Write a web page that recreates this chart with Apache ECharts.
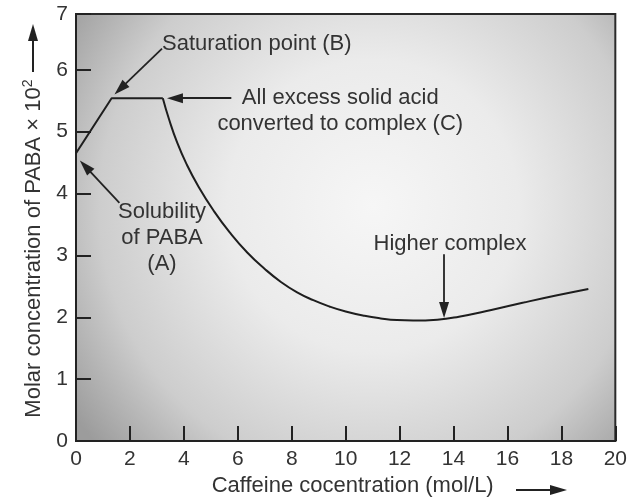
<!DOCTYPE html>
<html>
<head>
<meta charset="utf-8">
<script src="https://cdn.jsdelivr.net/npm/echarts@6/dist/echarts.min.js"></script>
<style>html,body{margin:0;padding:0;background:#fff;}#c{width:630px;height:502px;}</style>
</head>
<body>
<div id="c"></div>
<script>
// ---- data ----
// straight part: A (solubility) -> B (saturation) -> C (all acid complexed)
const caffeineStraight = [0, 1.32, 3.22];
const pabaStraight     = [4.65, 5.54, 5.54];
// curved part, starting at C
const caffeineCurve = [3.22, 3.45, 3.75, 4.1, 4.55, 5.1, 5.7, 6.35, 7.0, 7.6, 8.2, 8.8, 9.4, 10.0, 10.7, 11.3, 11.9, 12.5, 13.4, 14.2, 15.4, 16.6, 17.8, 19.0];
const pabaCurve     = [5.54, 5.20, 4.825, 4.475, 4.106, 3.726, 3.372, 3.047, 2.781, 2.571, 2.403, 2.277, 2.175, 2.094, 2.024, 1.982, 1.955, 1.948, 1.962, 2.010, 2.118, 2.238, 2.352, 2.458];
const xTickLabels = ['0','2','4','6','8','10','12','14','16','18','20'];
const yTickLabels = ['0','1','2','3','4','5','6','7'];
// annotation texts and their anchors (data units)
const noteTexts = ['Saturation point (B)', 'All excess solid acid\nconverted to complex (C)', 'Solubility\nof PABA\n(A)', 'Higher complex'];
const noteX = [3.19, 9.80, 3.19, 13.87];
const noteY = [6.41, 5.33, 3.29, 3.18];
const noteAlign = ['left', 'center', 'center', 'center'];
// annotation arrows: from -> to (data units)
const arrowFromX = [3.19, 5.76, 1.61, 13.65];
const arrowFromY = [6.34, 5.54, 3.85, 3.02];
const arrowToX   = [1.64, 3.67, 0.345, 13.65];
const arrowToY   = [5.69, 5.54, 4.44, 2.12];

const FONT = '"Liberation Sans", Arial, Helvetica, sans-serif';
const TXT = '#333';
const chart = echarts.init(document.getElementById('c'), null, {renderer: 'canvas'});

const straight = caffeineStraight.map((x, i) => [x, pabaStraight[i]]);
const curve = caffeineCurve.map((x, i) => [x, pabaCurve[i]]);

chart.setOption({
  animation: false,
  grid: {
    left: 76, right: 9, top: 14, bottom: 56,
    show: true,
    borderColor: '#2a2a2a', borderWidth: 2,
    backgroundColor: new echarts.graphic.RadialGradient(0.55, 0.45, 0.85, [
      {offset: 0, color: '#f6f6f6'},
      {offset: 0.4, color: '#ebebeb'},
      {offset: 0.75, color: '#cdcdcd'},
      {offset: 1, color: '#9c9c9c'}
    ])
  },
  xAxis: {
    type: 'value', min: 0, max: 20, interval: 2,
    axisLine: {show: true, lineStyle: {color: '#222', width: 2}},
    axisTick: {show: true, inside: true, length: 15, lineStyle: {color: '#222', width: 2}},
    axisLabel: {color: TXT, fontSize: 21, fontFamily: FONT, margin: 8,
      formatter: (v, i) => xTickLabels[i]},
    splitLine: {show: false},
    name: 'Caffeine cocentration (mol/L)',
    nameLocation: 'middle', nameGap: 33,
    nameTextStyle: {color: TXT, fontSize: 22, fontFamily: FONT, padding: [0, 0, 0, 14]}
  },
  yAxis: {
    type: 'value', min: 0, max: 6.9, interval: 1,
    axisLine: {show: true, lineStyle: {color: '#222', width: 2}},
    axisTick: {show: true, inside: true, length: 15, lineStyle: {color: '#222', width: 2}},
    axisLabel: {color: TXT, fontSize: 21, fontFamily: FONT, margin: 8,
      formatter: (v, i) => yTickLabels[i]},
    splitLine: {show: false},
    name: '{a|Molar concentration of PABA × 10}{b|2}',
    nameLocation: 'middle', nameGap: 28, nameRotate: 90,
    nameTextStyle: {
      padding: [0, 42, 0, 0],
      rich: {
        a: {color: TXT, fontSize: 22, fontFamily: FONT, lineHeight: 26},
        b: {color: TXT, fontSize: 14, fontFamily: FONT, verticalAlign: 'top', lineHeight: 26}
      }
    }
  },
  series: [{
    type: 'line',
    data: straight,
    smooth: false,
    showSymbol: false,
    lineStyle: {color: '#1e1e1e', width: 2},
    silent: true
  }, {
    type: 'line',
    data: curve,
    smooth: 0.5,
    showSymbol: false,
    lineStyle: {color: '#1e1e1e', width: 2},
    silent: true,
    markLine: {
      silent: true,
      symbol: ['none', 'triangle'],
      symbolSize: [10, 16],
      lineStyle: {color: '#222', width: 1.8, type: 'solid'},
      label: {show: false},
      emphasis: {disabled: true},
      data: arrowFromX.map((x, i) => [
        {coord: [x, arrowFromY[i]]},
        {coord: [arrowToX[i], arrowToY[i]]}
      ])
    },
    markPoint: {
      silent: true,
      symbol: 'circle', symbolSize: 0,
      label: {show: true, position: 'inside', color: TXT, fontSize: 22, fontFamily: FONT, lineHeight: 26,
        verticalAlign: 'middle'},
      data: noteTexts.map((t, i) => ({
        coord: [noteX[i], noteY[i]], value: t,
        label: {align: noteAlign[i], formatter: t}
      }))
    }
  }],
  graphic: [
    // y-title arrow
    {type: 'line', shape: {x1: 33, y1: 72, x2: 33, y2: 40}, style: {stroke: '#222', lineWidth: 2}},
    {type: 'polygon', shape: {points: [[33, 24], [28, 41], [38, 41]]}, style: {fill: '#222'}},
    // x-title arrow
    {type: 'line', shape: {x1: 516, y1: 490, x2: 552, y2: 490}, style: {stroke: '#222', lineWidth: 2}},
    {type: 'polygon', shape: {points: [[567, 490], [550, 485], [550, 495]]}, style: {fill: '#222'}}
  ]
});
</script>
</body>
</html>
